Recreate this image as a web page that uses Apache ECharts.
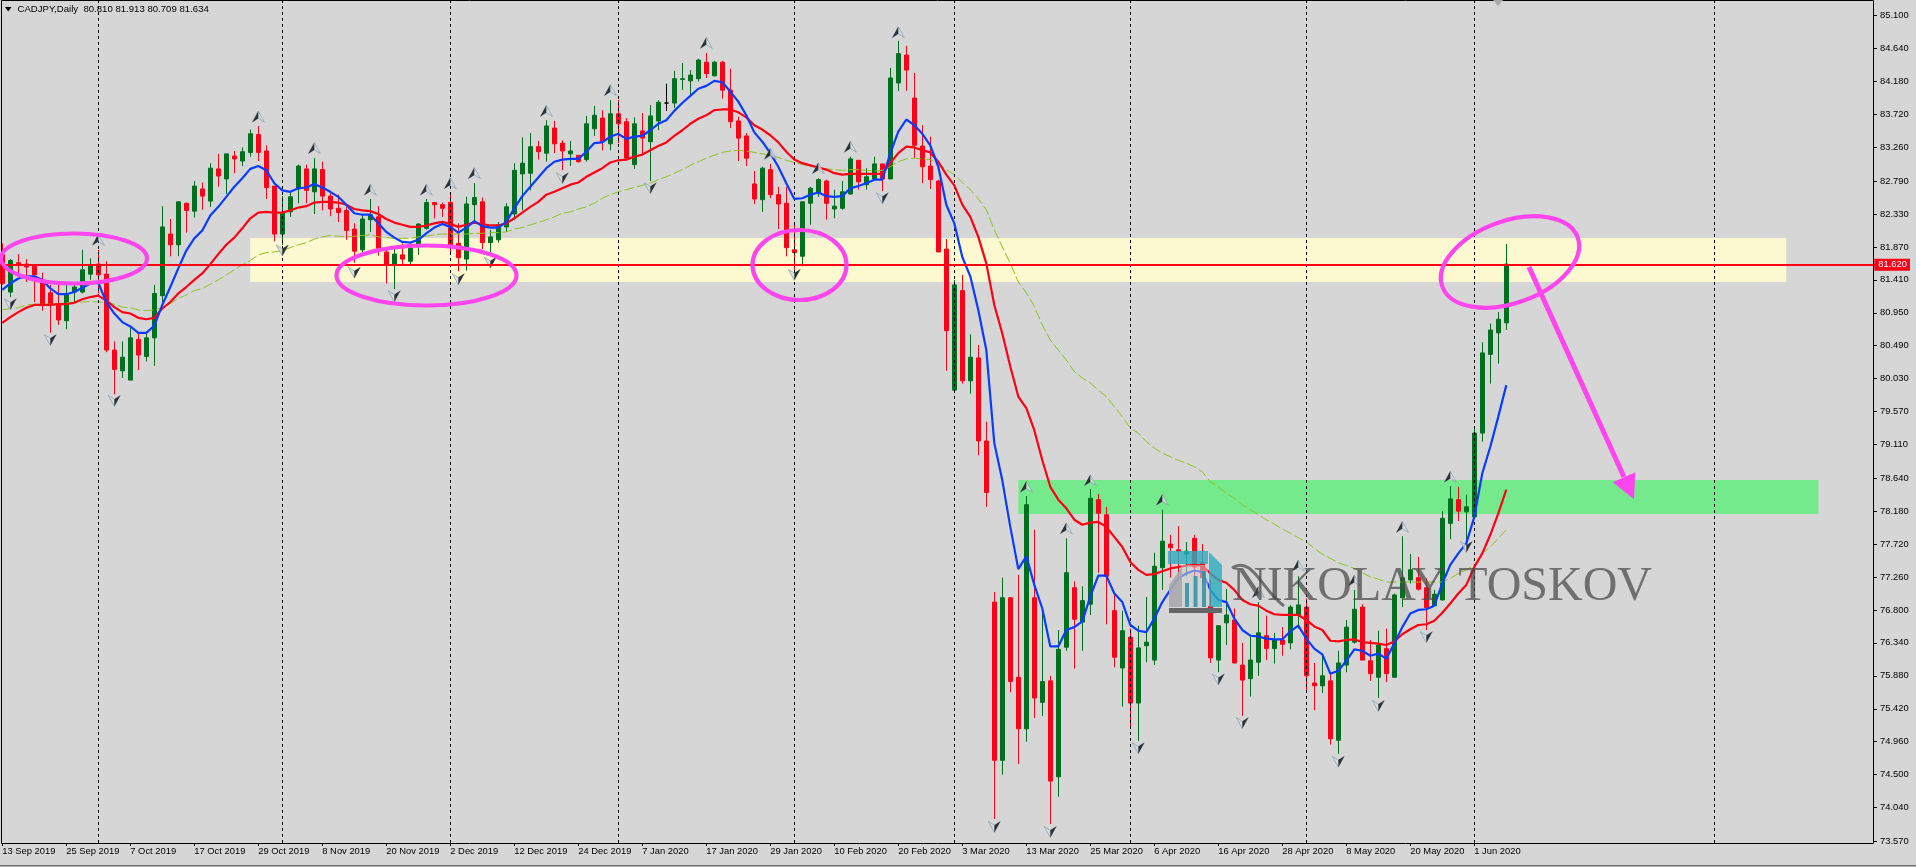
<!DOCTYPE html>
<html><head><meta charset="utf-8">
<style>html,body{margin:0;padding:0;background:#d6d6d6;overflow:hidden}#c{width:1916px;height:868px}</style>
<script src="https://cdn.jsdelivr.net/npm/echarts@6/dist/echarts.min.js"></script>
</head><body><div id="c"></div>
<script>
const tickLabels=["13 Sep 2019","25 Sep 2019","7 Oct 2019","17 Oct 2019","29 Oct 2019","8 Nov 2019","20 Nov 2019","2 Dec 2019","12 Dec 2019","24 Dec 2019","7 Jan 2020","17 Jan 2020","29 Jan 2020","10 Feb 2020","20 Feb 2020","3 Mar 2020","13 Mar 2020","25 Mar 2020","6 Apr 2020","16 Apr 2020","28 Apr 2020","8 May 2020","20 May 2020","1 Jun 2020"];
const priceTicks=[85.1,84.64,84.18,83.72,83.26,82.79,82.33,81.87,81.41,80.95,80.49,80.03,79.57,79.11,78.64,78.18,77.72,77.26,76.8,76.34,75.88,75.42,74.96,74.5,74.04,73.57];
const open=[81.76,81.24,81.65,81.63,81.60,81.41,81.23,81.08,80.84,81.24,
81.24,81.49,81.63,81.49,80.43,80.14,80.01,80.58,80.34,80.60,
81.19,82.05,81.90,82.48,82.37,82.68,82.51,82.96,82.82,83.14,
83.07,83.19,83.44,83.21,82.72,82.05,82.36,82.68,82.96,82.64,
82.95,82.58,82.41,82.38,82.12,81.83,82.25,82.29,81.80,81.63,
81.76,81.67,81.90,82.13,82.49,82.46,82.49,81.92,81.70,82.46,
82.50,81.93,81.97,82.15,82.33,82.89,82.90,83.27,83.18,83.53,
83.32,83.17,83.15,83.09,83.52,83.67,83.31,83.73,83.62,83.02,
83.49,83.34,83.63,83.88,83.88,84.21,84.19,84.22,84.45,84.26,
84.45,84.06,83.63,83.42,82.75,82.53,82.95,82.60,82.48,81.83,
81.74,82.48,82.62,82.79,82.40,82.41,82.61,83.08,82.74,82.82,
83.03,82.82,84.16,84.55,83.95,83.28,83.00,82.79,81.84,79.87,
81.26,80.00,80.32,79.16,76.91,74.70,76.97,75.86,75.14,76.97,
75.51,75.81,74.47,76.28,77.11,76.63,76.88,78.34,78.13,76.79,
75.99,76.42,75.50,76.30,76.10,77.39,77.72,77.64,77.58,77.80,
77.46,76.85,76.10,76.62,76.66,76.03,75.84,76.07,76.44,76.26,
76.38,76.34,76.73,76.84,75.78,75.74,75.81,74.98,76.03,76.35,
76.84,76.09,75.86,76.26,75.86,76.97,77.22,77.25,77.11,76.86,
76.94,78.01,78.34,78.17,78.10,79.27,80.37,80.67,80.81];
const close=[81.36,81.68,81.62,81.59,81.48,81.07,81.08,80.85,81.20,81.31,
81.55,81.62,81.48,80.43,80.16,80.33,80.60,80.36,80.60,81.22,
82.15,81.90,82.50,82.38,82.72,82.58,82.97,82.86,83.17,83.10,
83.20,83.45,83.19,82.70,82.05,82.34,82.57,83.00,82.66,82.96,
82.58,82.40,82.35,82.10,81.81,82.26,82.32,81.85,81.63,81.77,
81.70,81.85,82.19,82.49,82.46,82.41,81.90,81.72,82.47,82.56,
81.93,82.01,82.18,82.43,82.94,83.04,83.27,83.20,83.56,83.31,
83.21,83.21,83.06,83.59,83.71,83.34,83.73,83.59,83.11,83.59,
83.39,83.70,83.89,83.88,84.22,84.22,84.27,84.48,84.29,84.45,
84.06,83.62,83.39,83.11,82.54,82.97,82.60,82.47,81.86,81.79,
82.50,82.69,82.81,82.48,82.44,82.64,83.10,82.78,82.85,83.03,
82.82,84.23,84.57,84.34,83.29,82.99,82.81,81.80,80.70,81.34,
80.00,80.33,79.16,78.44,74.70,76.97,75.80,75.14,78.27,75.57,
75.80,74.41,76.25,77.32,76.67,76.93,78.36,78.15,77.27,76.14,
76.51,75.50,76.27,76.35,77.41,77.76,77.67,77.62,77.62,77.40,
77.25,76.13,76.58,76.73,76.06,75.82,76.10,76.48,76.26,76.39,
76.32,76.84,76.87,75.88,75.74,75.88,75.00,76.06,76.56,76.81,
76.10,75.91,76.31,75.91,77.01,77.25,77.36,77.09,76.83,77.02,
78.08,78.35,78.18,78.24,79.27,80.39,80.71,80.86,81.63];
const low=[81.34,81.17,81.48,81.38,81.10,80.98,80.67,80.78,80.72,81.09,
81.22,81.41,81.22,80.40,79.81,80.04,80.01,80.15,80.27,80.21,
81.10,81.74,81.74,82.07,82.28,82.39,82.43,82.71,82.61,82.90,
83.00,83.13,83.07,82.54,81.95,81.90,82.29,82.48,82.48,82.33,
82.38,82.30,82.22,81.97,81.65,81.79,82.08,81.75,81.36,81.28,
81.63,81.61,81.76,82.11,82.27,82.29,81.80,81.53,81.54,82.22,
81.84,81.80,81.93,82.08,82.25,82.38,82.66,83.09,83.06,83.18,
82.94,83.00,83.05,83.06,83.42,83.22,83.22,83.32,83.08,82.96,
83.15,82.79,83.50,83.77,83.81,84.06,83.99,84.18,84.23,84.25,
83.94,83.53,83.07,83.00,82.47,82.36,82.55,82.12,81.74,81.55,
81.60,82.18,82.57,82.25,82.27,82.39,82.60,82.67,82.67,82.81,
82.65,82.82,84.05,84.05,83.11,82.76,82.68,81.80,80.14,79.84,
79.96,79.82,78.96,78.24,73.88,74.50,75.65,74.65,74.96,75.29,
75.32,73.81,74.19,76.23,75.98,76.23,76.73,77.32,76.60,76.00,
75.45,75.15,74.97,76.07,76.03,77.08,77.25,77.22,77.27,77.24,
77.15,76.06,75.93,76.31,76.05,75.32,75.59,75.88,76.10,76.05,
76.16,76.25,76.54,75.66,75.40,75.64,74.92,74.79,75.93,76.33,
76.10,75.81,75.57,75.79,75.86,76.84,77.17,77.07,76.52,76.85,
76.93,77.79,78.04,77.71,78.08,79.15,79.96,80.24,80.71];
const high=[81.92,81.70,81.77,81.70,81.63,81.51,81.34,81.35,81.34,81.34,
81.83,81.71,81.83,81.67,80.55,80.55,80.75,80.68,80.66,81.34,
82.44,82.26,82.51,82.49,82.79,82.77,83.04,83.17,83.17,83.21,
83.26,83.51,83.56,83.29,82.72,82.58,82.63,83.02,83.02,83.11,
83.06,82.62,82.60,82.43,82.20,82.32,82.54,82.44,81.85,81.85,
81.92,81.92,82.20,82.54,82.49,82.49,82.63,82.20,82.57,82.76,
82.56,82.11,82.22,82.48,83.04,83.40,83.46,83.35,83.64,83.63,
83.36,83.35,83.15,83.70,83.84,83.78,83.92,83.92,83.67,83.68,
83.74,83.85,83.92,84.15,84.33,84.44,84.34,84.50,84.58,84.47,
84.47,84.36,83.69,83.46,82.93,82.99,83.03,82.71,82.71,82.20,
82.50,82.71,82.83,82.81,82.67,82.79,83.13,83.08,82.97,83.13,
83.03,84.37,84.75,84.68,84.30,83.57,83.41,82.81,81.98,81.41,
81.48,80.65,80.50,79.43,77.05,77.25,76.98,77.29,78.39,77.92,
76.80,75.88,76.52,77.80,77.20,77.13,78.49,78.42,78.24,77.01,
76.79,76.54,76.58,76.98,77.60,78.20,77.85,77.97,77.75,77.85,
77.72,77.22,76.58,77.09,76.82,76.34,76.43,76.91,76.72,76.48,
76.56,76.87,77.27,76.96,76.06,76.17,75.91,76.23,76.66,77.08,
76.88,76.38,76.51,76.54,77.03,77.83,77.58,77.54,77.24,77.08,
78.18,78.53,78.52,78.41,79.36,80.54,80.80,80.96,81.91];
const maBlue=[81.27,81.36,81.43,81.46,81.46,81.41,81.29,81.21,81.21,81.24,
81.30,81.36,81.37,81.10,80.94,80.82,80.76,80.67,80.67,80.77,
81.06,81.31,81.57,81.82,81.99,82.10,82.31,82.43,82.57,82.71,
82.83,82.96,83.00,82.94,82.76,82.66,82.64,82.69,82.70,82.75,
82.70,82.64,82.57,82.46,82.34,82.32,82.32,82.20,82.08,82.00,
81.94,81.93,81.97,82.06,82.14,82.19,82.15,82.07,82.14,82.23,
82.16,82.14,82.14,82.22,82.41,82.58,82.71,82.84,82.97,83.06,
83.09,83.10,83.10,83.20,83.32,83.33,83.41,83.45,83.38,83.41,
83.42,83.50,83.59,83.64,83.77,83.88,83.98,84.08,84.12,84.19,
84.17,84.04,83.90,83.71,83.47,83.34,83.18,82.99,82.76,82.54,
82.55,82.60,82.63,82.58,82.57,82.58,82.69,82.72,82.76,82.81,
82.81,83.18,83.48,83.65,83.57,83.45,83.29,82.99,82.46,82.20,
81.73,81.46,80.99,80.43,79.13,78.61,77.96,77.37,77.55,77.15,
76.82,76.29,76.29,76.52,76.56,76.64,76.99,77.28,77.28,77.03,
76.91,76.59,76.51,76.49,76.68,76.91,77.08,77.24,77.31,77.35,
77.33,77.08,76.94,76.91,76.68,76.52,76.44,76.43,76.40,76.39,
76.39,76.50,76.58,76.40,76.26,76.18,75.91,75.95,76.09,76.25,
76.23,76.16,76.19,76.12,76.33,76.56,76.75,76.80,76.81,76.86,
77.17,77.43,77.59,77.73,78.10,78.71,79.08,79.50,79.94];
const maRed=[80.81,80.89,80.96,81.02,81.06,81.06,81.06,81.07,81.07,81.09,
81.14,81.17,81.19,81.12,81.03,80.96,80.94,80.88,80.86,80.88,
81.01,81.10,81.22,81.31,81.41,81.50,81.63,81.77,81.90,82.00,
82.13,82.27,82.35,82.36,82.35,82.35,82.38,82.42,82.44,82.49,
82.50,82.50,82.49,82.46,82.40,82.38,82.37,82.33,82.26,82.21,
82.18,82.15,82.15,82.17,82.20,82.22,82.19,82.15,82.18,82.21,
82.19,82.17,82.17,82.20,82.27,82.35,82.43,82.50,82.60,82.64,
82.69,82.74,82.77,82.85,82.91,82.97,83.05,83.08,83.09,83.13,
83.16,83.22,83.28,83.33,83.42,83.50,83.59,83.66,83.71,83.78,
83.79,83.79,83.75,83.68,83.57,83.51,83.43,83.33,83.20,83.09,
83.04,83.01,82.98,82.95,82.90,82.88,82.89,82.89,82.89,82.89,
82.89,83.04,83.18,83.27,83.26,83.22,83.19,83.06,82.88,82.73,
82.46,82.29,82.01,81.64,81.06,80.66,80.20,79.78,79.62,79.31,
78.89,78.52,78.34,78.22,78.06,77.99,78.02,78.03,77.96,77.82,
77.68,77.47,77.36,77.29,77.30,77.34,77.38,77.40,77.42,77.43,
77.42,77.31,77.22,77.18,77.08,76.94,76.88,76.86,76.79,76.74,
76.73,76.73,76.73,76.66,76.57,76.52,76.37,76.36,76.38,76.39,
76.35,76.34,76.33,76.31,76.36,76.46,76.53,76.59,76.60,76.65,
76.76,76.89,77.03,77.15,77.40,77.59,77.85,78.15,78.48];
const maOlive=[80.99,81.01,81.02,81.06,81.07,81.07,81.07,81.08,81.09,81.10,
81.10,81.11,81.10,81.10,81.07,81.03,81.02,80.99,80.98,80.99,
81.02,81.08,81.15,81.20,81.26,81.29,81.35,81.41,81.48,81.55,
81.62,81.68,81.76,81.79,81.80,81.82,81.86,81.90,81.93,81.98,
82.01,82.03,82.02,82.01,82.02,82.03,82.04,82.01,82.00,81.99,
81.99,81.99,82.01,82.02,82.04,82.05,82.05,82.05,82.05,82.06,
82.06,82.07,82.07,82.08,82.12,82.14,82.18,82.21,82.25,82.29,
82.34,82.36,82.40,82.43,82.48,82.55,82.60,82.64,82.67,82.70,
82.73,82.76,82.81,82.85,82.90,82.95,83.01,83.06,83.11,83.15,
83.19,83.21,83.22,83.21,83.19,83.17,83.15,83.12,83.08,83.05,
83.02,83.00,82.98,82.96,82.95,82.94,82.95,82.95,82.94,82.93,
82.94,82.99,83.06,83.10,83.11,83.10,83.09,83.04,82.95,82.88,
82.77,82.67,82.54,82.39,82.11,81.87,81.64,81.38,81.23,81.04,
80.78,80.57,80.43,80.29,80.13,80.04,79.97,79.87,79.78,79.64,
79.50,79.34,79.27,79.15,79.06,78.99,78.94,78.89,78.85,78.80,
78.73,78.59,78.52,78.43,78.36,78.27,78.20,78.13,78.06,78.00,
77.93,77.87,77.81,77.75,77.66,77.58,77.52,77.46,77.42,77.38,
77.32,77.26,77.23,77.19,77.19,77.19,77.19,77.19,77.19,77.19,
77.19,77.24,77.31,77.36,77.43,77.59,77.68,77.80,77.92];
const fractalUpIndex=[12,32,39,46,53,56,59,68,76,88,96,102,106,112,128,133,136,145,157,162,169,175,181];
const fractalUpPrice=[81.97,83.69,83.25,82.67,82.67,82.76,82.90,83.77,84.06,84.72,83.17,82.97,83.27,84.87,78.52,77.94,78.61,78.34,77.05,77.42,77.21,77.96,78.66];
const fractalDownIndex=[1,6,14,35,44,49,57,61,70,81,99,110,124,131,142,152,155,167,172,178,183];
const fractalDownPrice=[81.07,80.57,79.72,81.82,81.51,81.18,81.42,81.65,82.83,82.69,81.48,82.55,73.77,73.70,74.87,75.83,75.22,74.68,75.46,76.42,77.68];
const separators=[12,35,56,77,99,119,141,163,184,214];
const bidPrice=81.62;
const resistanceZone=[31,223,81.995,81.38];
const supportZone=[127,227,78.615,78.14];
const headerText="CADJPY,Daily  80.810 81.913 80.709 81.634";

const BAND_COUNT=235;
const categories=[];
for(let i=0;i<BAND_COUNT;i++){categories.push(i%8===0&&i/8<tickLabels.length?tickLabels[i/8]:"");}
const showTick=i=>i%8===0&&i/8<tickLabels.length;
const GREEN="#006f1e",RED="#ff0019",MAG="#ff46ee",FONT='"Liberation Sans",Arial,sans-serif';
const candles=open.map((o,i)=>i===83?{value:[o,close[i],low[i],high[i]],itemStyle:{color:"#000",color0:"#000",borderColor:"#000",borderColor0:"#000"}}:[o,close[i],low[i],high[i]]);
const upFull="path://M6 0L12 13L6 8.5L0 13Z",upHalf="path://M6 0L6 8.5L0 13Z";
const pairs=(a,b)=>a.map((v,i)=>[v,b[i]]);
function arrows(idx,price,rot,off){
 return [
 {type:"scatter",data:pairs(idx,price),symbol:upFull,symbolSize:[12,11],symbolRotate:rot,z:6,silent:true,animation:false,
  itemStyle:{color:"#d4dde2",borderColor:"#7f97a6",borderWidth:0.8}},
 {type:"scatter",data:pairs(idx,price),symbol:upHalf,symbolSize:[6,11],symbolRotate:rot,symbolOffset:[off,0],z:7,silent:true,animation:false,
  itemStyle:{color:"#050505"}}];
}
const zoneArea=(z,color)=>[{xAxis:z[0],yAxis:z[2],itemStyle:{color,opacity:1}},{xAxis:z[1],yAxis:z[3]}];
const ma=(data,color,width,type,z)=>({type:"line",data,showSymbol:false,symbol:"none",z,silent:true,animation:false,lineStyle:{color,width,type}});
const ell=(cx,cy,rx,ry,deg)=>({type:"ellipse",x:cx,y:cy,rotation:(deg||0)*Math.PI/180,shape:{cx:0,cy:0,rx,ry},z:100,silent:true,style:{fill:null,stroke:MAG,lineWidth:4.2}});
const rect=(x,y,w,h,fill,z,op)=>({type:"rect",shape:{x,y,width:w,height:h},z:z||50,silent:true,style:{fill,opacity:op==null?1:op}});
const poly=(points,fill,z,op)=>({type:"polygon",shape:{points},z:z||50,silent:true,style:{fill,opacity:op==null?1:op}});

const option={
 backgroundColor:"#d6d6d6",animation:false,
 grid:{left:-1.7,top:1,width:8*BAND_COUNT,height:842,containLabel:false,outerBoundsMode:"none"},
 xAxis:{type:"category",data:categories,boundaryGap:true,axisLine:{show:false},
  axisTick:{show:true,alignWithLabel:true,interval:i=>showTick(i),length:3,lineStyle:{color:"#000",width:1}},
  axisLabel:{interval:i=>showTick(i),align:"left",color:"#000",fontFamily:FONT,fontSize:9.4,margin:4,hideOverlap:false},
  splitLine:{show:false}},
 yAxis:{type:"value",position:"right",min:73.545,max:85.305,offset:-4.3,scale:true,splitLine:{show:false},axisLine:{show:false},
  axisTick:{show:true,length:3,customValues:priceTicks,lineStyle:{color:"#000"}},
  axisLabel:{customValues:priceTicks,color:"#000",fontFamily:FONT,fontSize:9.4,margin:6,formatter:v=>v.toFixed(3)}},
 series:[
  {type:"line",data:[],z:1,silent:true,animation:false,
   markArea:{silent:true,animation:false,z:1,data:[zoneArea(resistanceZone,"#fcf8cf"),zoneArea(supportZone,"#74ea8c")]}},
  {type:"candlestick",data:candles,barWidth:5,z:3,silent:true,animation:false,
   itemStyle:{color:GREEN,color0:RED,borderColor:GREEN,borderColor0:RED,borderWidth:1},
   markLine:{silent:true,animation:false,symbol:"none",precision:3,label:{show:false},
    data:separators.map(s=>({xAxis:s,lineStyle:{color:"#000",type:[3,3],width:1}}))}},
  ma(maOlive,"#8fc31f",1,[10,3],4),
  ma(maRed,"#ff0014",2.2,"solid",5),
  ma(maBlue,"#0a3cff",2.2,"solid",5),
  ...arrows(fractalUpIndex,fractalUpPrice,0,-3),
  ...arrows(fractalDownIndex,fractalDownPrice,180,3),
  {type:"line",data:[],z:8,silent:true,animation:false,
   markLine:{silent:true,animation:false,symbol:"none",precision:3,z:8,
    data:[{yAxis:bidPrice,lineStyle:{color:"#ff0014",width:2,type:"solid"},
      label:{show:true,position:"end",distance:[-4,0],formatter:bidPrice.toFixed(3),color:"#fff",backgroundColor:"#ff0019",fontFamily:FONT,fontSize:9.4,padding:[2,3,1,4]}}]}}
 ],
 graphic:[
  rect(1168,551,40,13,"#29aebf",60,0.8),
  poly([[1209,552],[1222,565],[1222,607],[1209,607]],"#29aebf",60,0.8),
  rect(1181,565,27,42,"#d0d0d0",60,0.55),
  rect(1185,583,4,24,"#2b93a3",60,0.85),
  rect(1193.5,576,4,31,"#2b93a3",60,0.85),
  rect(1202,571,4,36,"#2b93a3",60,0.85),
  poly([[1169,585],[1182,567],[1182,607],[1169,607]],"#a8a8ae",60,0.9),
  rect(1169,608,53,5,"#666",60),
  {type:"text",x:1232,y:587,z:60,silent:true,style:{text:"NIKOLAY TOSKOV",fill:"rgba(70,70,70,0.72)",font:'48px "Liberation Serif",serif',verticalAlign:"middle",align:"left"}},
  {type:"bezierCurve",z:60,silent:true,shape:{x1:1232,y1:568,cpx1:1252,cpy1:555,cpx2:1262,cpy2:590,x2:1284,y2:606},style:{stroke:"rgba(70,70,70,0.7)",fill:null,lineWidth:3}},
  ell(74,258.5,73,25),
  ell(426.5,275.5,90,30),
  ell(799.5,265,47,35),
  ell(1510,262,72,41,20),
  {type:"polyline",z:100,silent:true,shape:{points:[[1529,267],[1624,477]]},style:{stroke:MAG,lineWidth:5,fill:null}},
  poly([[1612.7,482.3],[1635.3,472.3],[1634,499.3]],MAG,100),
  {type:"rect",z:90,silent:true,shape:{x:1.5,y:0.5,width:1872,height:843},style:{fill:null,stroke:"#000",lineWidth:1}},
  poly([[5,7],[11.5,7],[8.2,11.5]],"#000",90),
  {type:"text",x:17.5,y:9,z:90,silent:true,style:{text:headerText,fill:"#000",font:'9.6px "Liberation Sans",Arial,sans-serif',verticalAlign:"middle",align:"left"}},
  poly([[1493,0],[1503,0],[1498,6]],"#a9a9a9",90),
  rect(0,865.5,1916,1,"#000",90),
  rect(0,866.5,1916,2,"#fff",90)
 ]
};
const chart=echarts.init(document.getElementById("c"),null,{renderer:"canvas",width:1916,height:868});
chart.setOption(option);
</script></body></html>
